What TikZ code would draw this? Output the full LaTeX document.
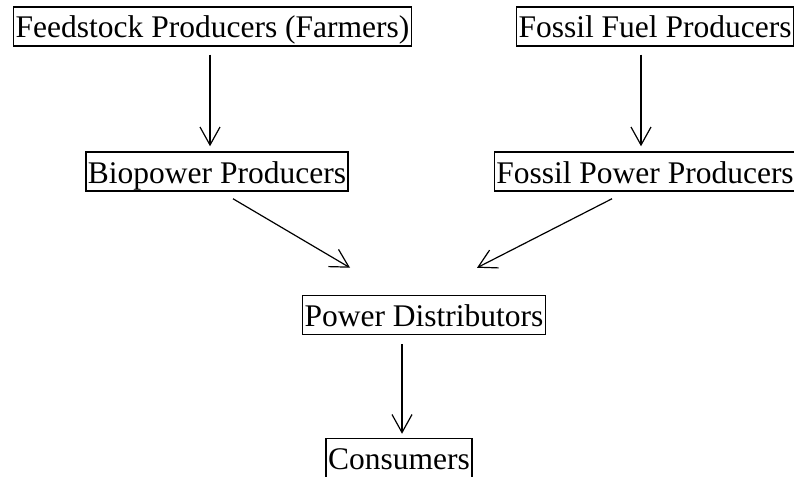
\documentclass[tikz,border=0pt]{standalone}
\usepackage{fontspec}
\setmainfont{Liberation Serif}
\usepackage{tikz}
\usetikzlibrary{arrows.meta}

\begin{document}
\begin{tikzpicture}[x=1pt, y=-1pt,
    every node/.style={font=\fontsize{31.5}{36}\selectfont},
    box/.style={draw, line width=1.5pt, inner xsep=2pt, inner ysep=2pt, text height=29pt, text depth=6pt},
    arr/.style={line width=1.2pt, -{Straight Barb[length=18pt,width=20pt]}}]
    \useasboundingbox (0,0) rectangle (794,476);
    \node[box] (farm) at (212.5,26.5) {Feedstock Producers (Farmers)};
    \node[box] (fuel) at (655,26.5) {Fossil Fuel Producers};
    \node[box] (bio) at (217,171.5) {Biopower Producers};
    \node[box] (fpow) at (645,171.5) {Fossil Power Producers};
    \node[box] (dist) at (424,315) {Power Distributors};
    \node[box] (cons) at (399,458) {Consumers};
    \draw[arr, shorten <=8pt, shorten >=5pt] ([xshift=-2.5pt]farm.south) -- ([xshift=-7pt]bio.north);
    \draw[arr, shorten <=8pt, shorten >=5pt] ([xshift=-14pt]fuel.south) -- ([xshift=-4pt]fpow.north);
    \draw[arr] ([shift={(16pt,-7pt)}]bio.south) -- ([shift={(-74pt,27pt)}]dist.north);
    \draw[arr] ([shift={(-33pt,-7pt)}]fpow.south) -- ([shift={(53pt,27pt)}]dist.north);
    \draw[arr, shorten <=9pt, shorten >=4pt] ([xshift=-22pt]dist.south) -- ([xshift=3pt]cons.north);
\end{tikzpicture}
\end{document}
